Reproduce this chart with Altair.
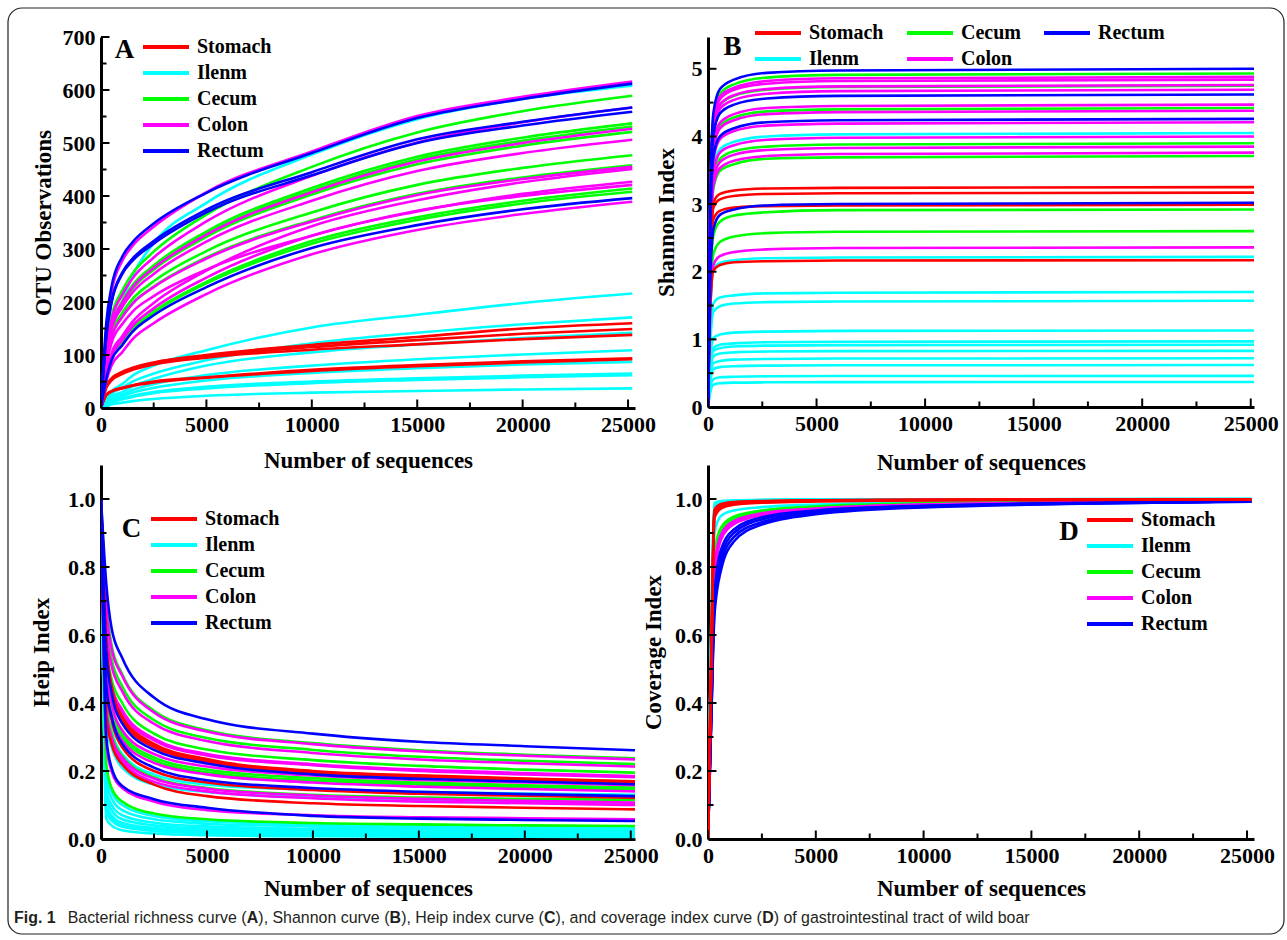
import altair as alt
import pandas as pd

SERIF = "Liberation Serif"
SANS = "Liberation Sans"
GROUPS = ["Stomach", "Ilenm", "Cecum", "Colon", "Rectum"]
COLORS = ["#ff0000", "#00ffff", "#00ff00", "#ff00ff", "#0000ff"]

X_MAJOR = [0, 5000, 10000, 15000, 20000, 25000]
X_MINOR = [2500, 7500, 12500, 17500, 22500]

# ---------------- Panel A: OTU observations ----------------
A_X = [0, 250, 500, 1000, 1500, 2500, 5000, 10000, 15000, 20000, 25200]
A_STOMACH = [
    [0, 40, 54, 66, 74, 85, 100, 119, 134, 150, 160],
    [0, 42, 56, 68, 76, 86, 98, 115, 128, 140, 149],
    [0, 38, 52, 64, 72, 82, 95, 110, 120, 130, 138],
    [0, 25, 32, 38, 43, 50, 58, 72, 81, 88, 94],
    [0, 24, 31, 37, 42, 48, 57, 70, 79, 86, 92],
]
A_ILENM = [
    [0, 90, 150, 200, 250, 311, 387, 478, 545, 583, 608],
    [0, 15, 31, 45, 61, 80, 109, 152, 176, 198, 216],
    [0, 12, 26, 38, 50, 65, 90, 122, 142, 158, 171],
    [0, 10, 21, 30, 41, 55, 80, 105, 120, 132, 142],
    [0, 8, 17, 25, 34, 45, 62, 80, 92, 101, 109],
    [0, 7, 15, 22, 29, 38, 52, 66, 75, 82, 87],
    [0, 6, 13, 18, 23, 30, 40, 50, 56, 61, 65],
    [0, 5, 11, 16, 21, 28, 37, 47, 53, 58, 62],
    [0, 3, 7, 10, 13, 17, 23, 29, 32, 35, 37],
]
A_CECUM = [
    [0, 112, 172, 221, 254, 295, 365, 455, 520, 560, 589],
    [0, 102, 156, 201, 232, 269, 333, 415, 474, 510, 537],
    [0, 101, 155, 199, 229, 266, 329, 410, 469, 504, 531],
    [0, 99, 152, 195, 225, 261, 323, 403, 460, 495, 521],
    [0, 91, 139, 179, 206, 239, 296, 369, 421, 453, 477],
    [0, 87, 134, 172, 198, 229, 284, 354, 404, 435, 458],
    [0, 58, 94, 124, 150, 182, 238, 315, 360, 391, 414],
    [0, 57, 93, 122, 148, 180, 235, 310, 355, 386, 408],
]
A_COLON = [
    [0, 148, 219, 277, 306, 342, 407, 484, 551, 587, 616],
    [0, 108, 166, 213, 245, 284, 352, 438, 501, 539, 567],
    [0, 100, 154, 198, 228, 264, 327, 407, 465, 500, 527],
    [0, 96, 148, 190, 218, 253, 314, 391, 447, 481, 506],
    [0, 86, 133, 171, 197, 228, 282, 352, 402, 432, 455],
    [0, 63, 103, 135, 163, 198, 259, 343, 392, 426, 451],
    [0, 60, 97, 128, 155, 188, 246, 325, 371, 404, 427],
    [0, 80, 123, 158, 182, 211, 261, 325, 372, 400, 421],
    [0, 50, 80, 105, 130, 160, 215, 290, 336, 366, 389],
]
A_RECTUM = [
    [0, 160, 229, 285, 313, 348, 406, 481, 547, 583, 612],
    [0, 136, 201, 255, 282, 315, 374, 445, 507, 540, 567],
    [0, 134, 199, 252, 278, 310, 369, 439, 500, 533, 559],
    [0, 55, 90, 118, 144, 175, 228, 302, 345, 375, 396],
]
A_Y_MAJOR = [0, 100, 200, 300, 400, 500, 600, 700]
A_Y_MINOR = [50, 150, 250, 350, 450, 550, 650]

# ---------------- Panel B: Shannon ----------------
B_X = [0, 100, 250, 550, 1200, 2700, 6000, 25200]
B_STOMACH = [
    [0, 2.15, 3.02, 3.15, 3.20, 3.23, 3.24, 3.25],
    [0, 2.09, 2.95, 3.07, 3.12, 3.15, 3.16, 3.17],
    [0, 1.97, 2.78, 2.90, 2.95, 2.97, 2.98, 2.99],
    [0, 1.43, 2.02, 2.10, 2.14, 2.155, 2.165, 2.17],
]
B_ILENM = [
    [0, 2.43, 3.52, 3.81, 3.92, 4.00, 4.03, 4.05],
    [0, 1.35, 2.05, 2.13, 2.17, 2.20, 2.21, 2.22],
    [0, 0.99, 1.53, 1.62, 1.65, 1.68, 1.69, 1.70],
    [0, 0.91, 1.41, 1.49, 1.53, 1.55, 1.56, 1.57],
    [0, 0.66, 1.02, 1.07, 1.10, 1.115, 1.125, 1.13],
    [0, 0.56, 0.87, 0.92, 0.94, 0.957, 0.965, 0.97],
    [0, 0.53, 0.83, 0.87, 0.894, 0.908, 0.915, 0.92],
    [0, 0.48, 0.75, 0.79, 0.807, 0.82, 0.826, 0.83],
    [0, 0.42, 0.65, 0.68, 0.70, 0.71, 0.716, 0.72],
    [0, 0.36, 0.56, 0.59, 0.603, 0.612, 0.617, 0.62],
    [0, 0.27, 0.41, 0.44, 0.447, 0.454, 0.458, 0.46],
    [0, 0.21, 0.33, 0.35, 0.36, 0.365, 0.368, 0.37],
]
B_CECUM = [
    [0, 2.96, 4.29, 4.63, 4.77, 4.87, 4.91, 4.93],
    [0, 2.85, 4.13, 4.47, 4.60, 4.69, 4.73, 4.75],
    [0, 2.65, 3.85, 4.15, 4.28, 4.37, 4.40, 4.42],
    [0, 2.34, 3.39, 3.67, 3.78, 3.85, 3.88, 3.90],
    [0, 2.23, 3.23, 3.49, 3.59, 3.67, 3.69, 3.71],
    [0, 1.75, 2.54, 2.74, 2.83, 2.88, 2.91, 2.92],
    [0, 1.56, 2.26, 2.44, 2.52, 2.57, 2.59, 2.60],
]
B_COLON = [
    [0, 2.93, 4.25, 4.59, 4.72, 4.82, 4.86, 4.88],
    [0, 2.90, 4.21, 4.55, 4.69, 4.78, 4.82, 4.84],
    [0, 2.86, 4.14, 4.47, 4.61, 4.70, 4.74, 4.76],
    [0, 2.81, 4.08, 4.41, 4.54, 4.63, 4.67, 4.69],
    [0, 2.68, 3.89, 4.20, 4.33, 4.42, 4.45, 4.47],
    [0, 2.63, 3.81, 4.12, 4.24, 4.33, 4.36, 4.38],
    [0, 2.53, 3.66, 3.96, 4.08, 4.16, 4.19, 4.21],
    [0, 2.40, 3.48, 3.76, 3.87, 3.95, 3.98, 4.00],
    [0, 2.31, 3.35, 3.62, 3.73, 3.80, 3.83, 3.85],
    [0, 2.26, 3.27, 3.53, 3.64, 3.71, 3.74, 3.76],
    [0, 1.42, 2.10, 2.23, 2.29, 2.33, 2.35, 2.36],
]
B_RECTUM = [
    [0, 3.00, 4.35, 4.70, 4.84, 4.94, 4.975, 5.00],
    [0, 2.77, 4.02, 4.34, 4.47, 4.56, 4.60, 4.62],
    [0, 2.56, 3.71, 4.00, 4.12, 4.21, 4.24, 4.26],
    [0, 1.81, 2.63, 2.84, 2.92, 2.98, 3.00, 3.02],
]
B_Y_MAJOR = [0, 1, 2, 3, 4, 5]
B_Y_MINOR = [0.5, 1.5, 2.5, 3.5, 4.5]

# ---------------- Panel C: Heip ----------------
C_X = [0, 250, 500, 1000, 2500, 5000, 10000, 15000, 20000, 25200]
C_STOMACH = [
    [1, 0.58, 0.45, 0.36, 0.28, 0.235, 0.20, 0.187, 0.178, 0.17],
    [1, 0.57, 0.44, 0.355, 0.275, 0.232, 0.198, 0.185, 0.176, 0.168],
    [1, 0.56, 0.44, 0.35, 0.27, 0.228, 0.195, 0.182, 0.173, 0.165],
    [1, 0.44, 0.35, 0.27, 0.20, 0.166, 0.144, 0.133, 0.127, 0.121],
    [1, 0.36, 0.28, 0.22, 0.16, 0.126, 0.105, 0.097, 0.092, 0.087],
]
C_ILENM = [
    [1, 0.40, 0.32, 0.25, 0.19, 0.16, 0.145, 0.138, 0.134, 0.13],
    [1, 0.33, 0.27, 0.21, 0.16, 0.138, 0.122, 0.113, 0.108, 0.103],
    [1, 0.20, 0.14, 0.10, 0.068, 0.052, 0.043, 0.039, 0.037, 0.035],
    [1, 0.17, 0.12, 0.085, 0.058, 0.045, 0.037, 0.033, 0.031, 0.03],
    [1, 0.14, 0.10, 0.07, 0.048, 0.037, 0.03, 0.028, 0.026, 0.025],
    [1, 0.12, 0.085, 0.058, 0.04, 0.03, 0.025, 0.022, 0.021, 0.02],
    [1, 0.10, 0.07, 0.047, 0.032, 0.024, 0.019, 0.017, 0.016, 0.015],
    [1, 0.09, 0.06, 0.04, 0.028, 0.02, 0.016, 0.014, 0.013, 0.012],
    [1, 0.08, 0.055, 0.036, 0.024, 0.017, 0.013, 0.011, 0.0105, 0.01],
    [1, 0.06, 0.04, 0.026, 0.016, 0.011, 0.008, 0.007, 0.0065, 0.006],
]
C_CECUM = [
    [1, 0.70, 0.57, 0.485, 0.377, 0.32, 0.282, 0.261, 0.248, 0.237],
    [1, 0.65, 0.53, 0.45, 0.35, 0.297, 0.262, 0.242, 0.23, 0.22],
    [1, 0.58, 0.47, 0.40, 0.31, 0.263, 0.232, 0.215, 0.204, 0.195],
    [1, 0.48, 0.38, 0.31, 0.24, 0.204, 0.179, 0.166, 0.158, 0.151],
    [1, 0.46, 0.37, 0.30, 0.232, 0.196, 0.172, 0.16, 0.152, 0.145],
    [1, 0.40, 0.31, 0.245, 0.182, 0.15, 0.13, 0.122, 0.118, 0.115],
    [1, 0.22, 0.15, 0.11, 0.075, 0.058, 0.047, 0.043, 0.04, 0.038],
]
C_COLON = [
    [1, 0.68, 0.56, 0.48, 0.372, 0.316, 0.279, 0.258, 0.245, 0.234],
    [1, 0.62, 0.51, 0.435, 0.339, 0.288, 0.253, 0.234, 0.223, 0.213],
    [1, 0.55, 0.45, 0.38, 0.295, 0.25, 0.22, 0.204, 0.194, 0.185],
    [1, 0.54, 0.44, 0.37, 0.29, 0.246, 0.217, 0.20, 0.19, 0.182],
    [1, 0.50, 0.40, 0.32, 0.25, 0.213, 0.187, 0.174, 0.166, 0.158],
    [1, 0.45, 0.36, 0.29, 0.224, 0.19, 0.166, 0.154, 0.147, 0.14],
    [1, 0.38, 0.30, 0.24, 0.178, 0.148, 0.128, 0.118, 0.112, 0.107],
    [1, 0.36, 0.29, 0.23, 0.168, 0.14, 0.12, 0.11, 0.105, 0.10],
    [1, 0.28, 0.20, 0.15, 0.11, 0.085, 0.07, 0.064, 0.061, 0.058],
]
C_RECTUM = [
    [1, 0.75, 0.62, 0.533, 0.416, 0.352, 0.31, 0.286, 0.273, 0.261],
    [1, 0.55, 0.43, 0.34, 0.262, 0.222, 0.19, 0.177, 0.169, 0.161],
    [1, 0.45, 0.36, 0.28, 0.21, 0.173, 0.15, 0.139, 0.132, 0.126],
    [1, 0.30, 0.21, 0.156, 0.117, 0.092, 0.068, 0.06, 0.056, 0.053],
]
C_Y_MAJOR = [0, 0.2, 0.4, 0.6, 0.8, 1.0]
C_Y_MINOR = [0.1, 0.3, 0.5, 0.7, 0.9]

# ---------------- Panel D: Coverage ----------------
D_X = [0, 150, 300, 600, 1200, 2500, 5000, 10000, 25200]
D_STOMACH = [
    [0, 0.50, 0.955, 0.978, 0.986, 0.990, 0.994, 0.997, 0.999],
    [0, 0.48, 0.945, 0.972, 0.983, 0.989, 0.993, 0.996, 0.999],
    [0, 0.52, 0.960, 0.980, 0.988, 0.992, 0.995, 0.997, 0.999],
    [0, 0.55, 0.968, 0.985, 0.991, 0.994, 0.996, 0.998, 0.999],
    [0, 0.53, 0.962, 0.982, 0.990, 0.993, 0.996, 0.998, 0.999],
]
D_ILENM = [
    [0, 0.62, 0.985, 0.992, 0.995, 0.997, 0.998, 0.999, 1.0],
    [0, 0.60, 0.982, 0.990, 0.994, 0.996, 0.998, 0.999, 1.0],
    [0, 0.64, 0.988, 0.994, 0.996, 0.998, 0.999, 0.999, 1.0],
    [0, 0.58, 0.978, 0.988, 0.993, 0.996, 0.997, 0.999, 1.0],
    [0, 0.55, 0.970, 0.985, 0.991, 0.995, 0.997, 0.998, 0.999],
    [0, 0.45, 0.900, 0.950, 0.966, 0.976, 0.984, 0.990, 0.995],
]
D_CECUM = [
    [0, 0.42, 0.82, 0.905, 0.942, 0.962, 0.975, 0.985, 0.994],
    [0, 0.40, 0.80, 0.895, 0.936, 0.958, 0.972, 0.983, 0.993],
    [0, 0.43, 0.84, 0.915, 0.948, 0.966, 0.978, 0.987, 0.995],
    [0, 0.41, 0.81, 0.900, 0.940, 0.960, 0.974, 0.984, 0.994],
]
D_COLON = [
    [0, 0.40, 0.79, 0.890, 0.932, 0.956, 0.971, 0.983, 0.993],
    [0, 0.38, 0.77, 0.880, 0.926, 0.952, 0.969, 0.982, 0.993],
    [0, 0.39, 0.78, 0.885, 0.930, 0.955, 0.970, 0.983, 0.993],
    [0, 0.41, 0.80, 0.895, 0.935, 0.958, 0.972, 0.984, 0.994],
]
D_RECTUM = [
    [0, 0.35, 0.66, 0.79, 0.875, 0.925, 0.955, 0.975, 0.992],
    [0, 0.36, 0.70, 0.83, 0.900, 0.940, 0.963, 0.979, 0.993],
    [0, 0.37, 0.72, 0.85, 0.910, 0.946, 0.966, 0.980, 0.993],
    [0, 0.35, 0.68, 0.81, 0.888, 0.932, 0.959, 0.977, 0.992],
]

CAPTION = [
    ("Fig. 1", True),
    ("Bacterial richness curve (", False),
    ("A", True),
    ("), Shannon curve (", False),
    ("B", True),
    ("), Heip index curve (", False),
    ("C", True),
    ("), and coverage index curve (", False),
    ("D", True),
    (") of gastrointestinal tract of wild boar", False),
]
CAPTION_X0, CAPTION_X1, CAPTION_Y = 14, 1030, 918

# Arial / Liberation Sans advance widths (1/1000 em) for laying out caption runs
REG_W = {" ": 278, "(": 333, ")": 333, ",": 278, ".": 278, "1": 556,
         "A": 667, "B": 667, "C": 722, "D": 722, "F": 611, "H": 722, "S": 667,
         "a": 556, "b": 556, "c": 500, "d": 556, "e": 556, "f": 278, "g": 556,
         "h": 556, "i": 222, "j": 222, "k": 500, "l": 222, "m": 833, "n": 556,
         "o": 556, "p": 556, "q": 556, "r": 333, "s": 500, "t": 278, "u": 556,
         "v": 500, "w": 722, "x": 500, "y": 500, "z": 500}
BOLD_W = {" ": 278, ".": 278, "1": 556, "A": 722, "B": 722, "C": 722, "D": 722,
          "F": 611, "i": 278, "g": 611}


def text_em(s, bold):
    table = BOLD_W if bold else REG_W
    return sum(table.get(ch, 556) for ch in s) / 1000.0


def curves_df(xs, groups):
    rows = []
    for name, curves in groups:
        for i, ys in enumerate(curves):
            for x, y in zip(xs, ys):
                rows.append({"x": x, "y": y, "group": name, "curve": f"{name}{i}"})
    return pd.DataFrame(rows)


def make_legend(lx, ly, columns=None, col_pad=21):
    kw = dict(orient="none", legendX=lx, legendY=ly, title=None,
              symbolType="stroke", symbolSize=2116, symbolStrokeWidth=3.8,
              clipHeight=26, rowPadding=0, columnPadding=col_pad, padding=0,
              labelFont=SERIF, labelFontWeight="bold", labelFontSize=20,
              labelColor="black", labelOffset=6, labelLimit=300)
    if columns:
        kw["columns"] = columns
    return alt.Legend(**kw)


def panel(df, order, w, h, xmax, ydom, ymaj, ymin, yfmt, ytitle, ytitle_x,
          xtitle_y, legend, letter, lx, ly, extra=None):
    xs = alt.Scale(domain=[0, xmax], nice=False, zero=False)
    ys = alt.Scale(domain=ydom, nice=False, zero=False)
    xax = alt.Axis(values=X_MAJOR, title="Number of sequences", titleY=xtitle_y,
                   titleBaseline="middle", labelFlush=False, labelPadding=6,
                   labelOverlap=False, ticks=False, grid=False, format="d")
    yax = alt.Axis(values=ymaj, title=ytitle, titleX=ytitle_x, titleBaseline="middle",
                   labelPadding=6, labelOverlap=False, ticks=False, grid=False,
                   format=yfmt)
    X = alt.X("x:Q", scale=xs, axis=xax)
    Y = alt.Y("y:Q", scale=ys, axis=yax)
    cs = alt.Scale(domain=GROUPS, range=COLORS)
    layers = []
    for g in order:
        layers.append(
            alt.Chart(df).transform_filter(alt.datum.group == g)
            .mark_line(strokeWidth=2.6, interpolate="monotone", clip=True)
            .encode(x=X, y=Y, color=alt.Color("group:N", scale=cs, legend=legend),
                    detail="curve:N")
        )
    for vals, ln in ((X_MAJOR, 8.5), (X_MINOR, 5.5)):
        layers.append(
            alt.Chart(pd.DataFrame({"x": vals})).mark_rule(color="black", strokeWidth=2)
            .encode(x=X, y=alt.value(h), y2=alt.value(h - ln))
        )
    for vals, ln in ((ymaj, 8.5), (ymin, 5.5)):
        layers.append(
            alt.Chart(pd.DataFrame({"y": vals})).mark_rule(color="black", strokeWidth=2)
            .encode(y=Y, x=alt.value(0), x2=alt.value(ln))
        )
    layers.append(
        alt.Chart(pd.DataFrame({"t": [letter]}))
        .mark_text(font=SERIF, fontWeight="bold", fontSize=27, align="center",
                   baseline="middle", color="black")
        .encode(text="t:N", x=alt.value(lx), y=alt.value(ly))
    )
    if extra:
        layers.extend(extra)
    return alt.layer(*layers).properties(width=w, height=h)


dfA = curves_df(A_X, [("Stomach", A_STOMACH), ("Ilenm", A_ILENM), ("Cecum", A_CECUM),
                      ("Colon", A_COLON), ("Rectum", A_RECTUM)])
dfB = curves_df(B_X, [("Stomach", B_STOMACH), ("Ilenm", B_ILENM), ("Cecum", B_CECUM),
                      ("Colon", B_COLON), ("Rectum", B_RECTUM)])
dfC = curves_df(C_X, [("Stomach", C_STOMACH), ("Ilenm", C_ILENM), ("Cecum", C_CECUM),
                      ("Colon", C_COLON), ("Rectum", C_RECTUM)])
dfD = curves_df(D_X, [("Stomach", D_STOMACH), ("Ilenm", D_ILENM), ("Cecum", D_CECUM),
                      ("Colon", D_COLON), ("Rectum", D_RECTUM)])

# frame and caption (decoration, drawn relative to panel A's plot origin)
OX, OY = 101, 37
extra = [
    alt.Chart(pd.DataFrame({"a": [0]}))
    .mark_rect(filled=False, stroke="#222222", strokeWidth=1.2, cornerRadius=14)
    .encode(x=alt.value(8 - OX), y=alt.value(8 - OY), x2=alt.value(1284 - OX),
            y2=alt.value(934 - OY))
]
GAP_AFTER_FIG = 0.75  # em
total_em = sum(text_em(t, b) for t, b in CAPTION) + GAP_AFTER_FIG
cap_size = (CAPTION_X1 - CAPTION_X0) / total_em
cur = CAPTION_X0
for i, (text, bold) in enumerate(CAPTION):
    extra.append(
        alt.Chart(pd.DataFrame({"t": [text]}))
        .mark_text(font=SANS, fontSize=cap_size, fontWeight="bold" if bold else "normal",
                   align="left", baseline="middle", color="#231f20")
        .encode(text="t:N", x=alt.value(cur - OX), y=alt.value(CAPTION_Y - OY))
    )
    cur += text_em(text, bold) * cap_size
    if i == 0:
        cur += GAP_AFTER_FIG * cap_size

pA = panel(dfA, ["Ilenm", "Stomach", "Cecum", "Colon", "Rectum"], 534, 371, 25330,
           [0, 700], A_Y_MAJOR, A_Y_MINOR, "d", "OTU  Observations", -58, 52,
           make_legend(40, -3), "A", 23.5, 13, extra)
pB = panel(dfB, ["Ilenm", "Cecum", "Colon", "Stomach", "Rectum"], 546, 370, 25150,
           [0, 5.47], B_Y_MAJOR, B_Y_MINOR, "d", "Shannon Index", -42, 55,
           make_legend(45, -17, columns=3), "B", 24.5, 10)
pC = panel(dfC, ["Ilenm", "Cecum", "Colon", "Stomach", "Rectum"], 534, 374, 25200,
           [0, 1.1], C_Y_MAJOR, C_Y_MINOR, ".1f", "Heip Index", -59.5, 49,
           make_legend(48, 41), "C", 30.5, 64)
pD = panel(dfD, ["Ilenm", "Cecum", "Colon", "Rectum", "Stomach"], 546, 374, 25325,
           [0, 1.1], C_Y_MAJOR, C_Y_MINOR, ".1f", "Coverage Index", -54.5, 49,
           make_legend(377, 42), "D", 361, 67)

chart = (
    alt.concat(pA, pB, pC, pD, columns=2, spacing={"row": 57, "column": 73},
               bounds="flush",
               padding={"left": 7, "top": 7, "right": 2, "bottom": 2})
    .resolve_scale(color="independent")
    .configure(background="white")
    .configure_view(strokeWidth=0)
    .configure_axis(domainColor="black", domainWidth=3, labelFont=SERIF,
                    labelFontSize=22, labelFontWeight="bold", labelColor="black",
                    titleFont=SERIF, titleFontSize=23, titleFontWeight="bold",
                    titleColor="black")
)

chart.save("out.html", embed_options={"renderer": "svg", "actions": False})
